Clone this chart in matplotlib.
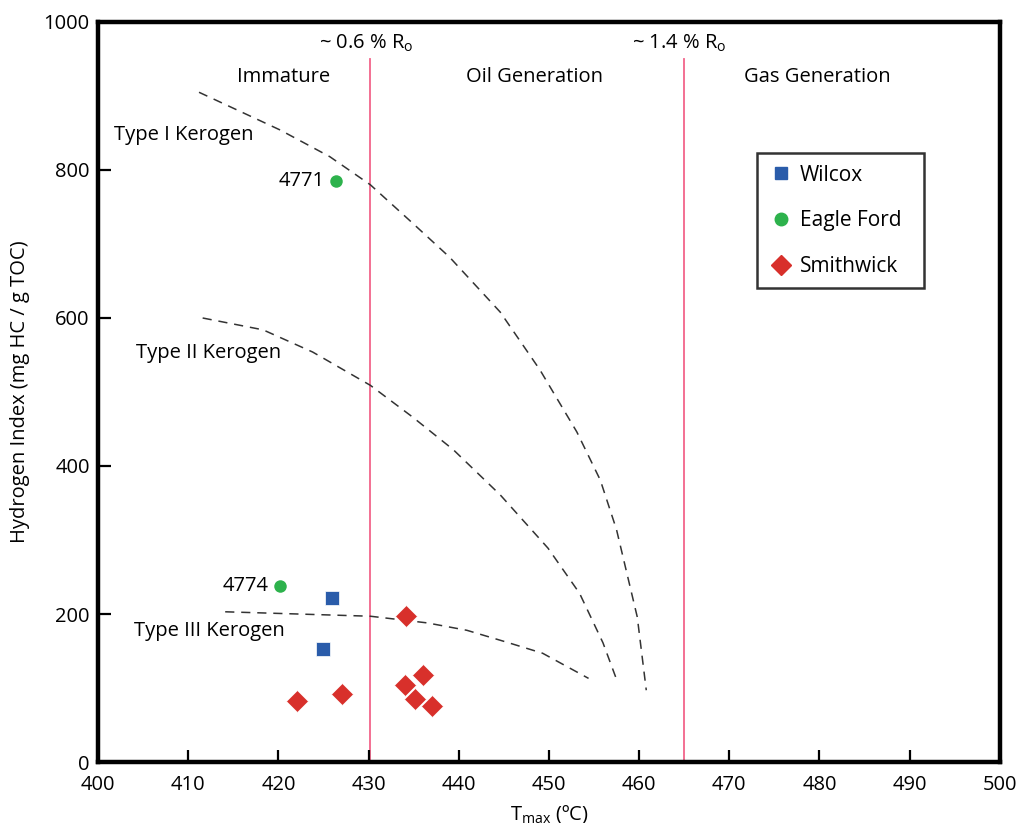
import matplotlib.pyplot as plt
from matplotlib.lines import Line2D

plt.rcParams['font.family'] = ['Open Sans', 'DejaVu Sans']
plt.rcParams['mathtext.fontset'] = 'custom'
plt.rcParams['mathtext.rm'] = 'Open Sans'

# sample data (Tmax in degC, HI in mg HC / g TOC)
wilcox_t = [426.0, 425.0]
wilcox_hi = [222, 153]

eagle_t = [426.4, 420.2]
eagle_hi = [785, 238]
eagle_ids = ['4771', '4774']

smith_t = [434.2, 422.1, 427.1, 434.0, 436.0, 435.1, 437.0]
smith_hi = [197, 83, 92, 104, 118, 85, 76]

# kerogen type evolution paths
type1_t = [411.2, 420.2, 425.7, 430.2, 434.9, 439.0, 444.6, 449.0, 453.1, 455.7, 457.5, 459.8, 460.8]
type1_hi = [905, 854, 818, 780, 728, 682, 608, 530, 446, 381, 314, 196, 97]
type2_t = [411.6, 418.3, 423.8, 430.2, 434.9, 439.4, 444.6, 449.9, 453.4, 456.0, 457.4]
type2_hi = [600, 584, 554, 509, 466, 422, 361, 289, 228, 161, 115]
type3_t = [414.1, 430.2, 436.5, 440.9, 445.3, 449.3, 452.3, 454.4]
type3_hi = [203, 197, 188, 178, 162, 147, 127, 113]

# maturity boundaries
ro_t = [430.2, 465.0]
ro_labels = ['~ 0.6 % R$_{\\rm o}$', '~ 1.4 % R$_{\\rm o}$']

fig = plt.figure(figsize=(10.16, 8.23), dpi=100)
ax = fig.add_axes([0.0965, 0.0741, 0.8875, 0.8992])

for xv in ro_t:
    ax.plot([xv, xv], [0, 950], color='#f2648a', lw=1.3, zorder=1)

dash = (0, (6, 4.5))
for tt, hh in [(type1_t, type1_hi), (type2_t, type2_hi), (type3_t, type3_hi)]:
    ax.plot(tt, hh, color='#333333', lw=1.1, linestyle=dash, zorder=2)

ax.plot(wilcox_t, wilcox_hi, 's', color='#2a5caa', ms=10, mec='white', mew=0.5, zorder=3)
ax.plot(eagle_t, eagle_hi, 'o', color='#2db24c', ms=9, mec='none', zorder=3)
ax.plot(smith_t, smith_hi, 'D', color='#d8302b', ms=11.5, mec='white', mew=0.5, zorder=3)

for t, h, s in zip(eagle_t, eagle_hi, eagle_ids):
    ax.text(t - 1.3, h, s, ha='right', va='center', fontsize=14.5)

fs = 14.5
ax.text(420.6, 926, 'Immature', ha='center', va='center', fontsize=fs)
ax.text(448.4, 926, 'Oil Generation', ha='center', va='center', fontsize=fs)
ax.text(479.8, 926, 'Gas Generation', ha='center', va='center', fontsize=fs)
ax.text(429.7, 971, ro_labels[0], ha='center', va='center', fontsize=fs)
ax.text(464.4, 971, ro_labels[1], ha='center', va='center', fontsize=fs)
ax.text(401.8, 847, 'Type I Kerogen', ha='left', va='center', fontsize=fs)
ax.text(404.2, 553, 'Type II Kerogen', ha='left', va='center', fontsize=fs)
ax.text(404.0, 177, 'Type III Kerogen', ha='left', va='center', fontsize=fs)

ax.set_xlim(400, 500)
ax.set_ylim(0, 1000)
ax.set_xticks(range(400, 501, 10))
ax.set_yticks(range(0, 1001, 200))
ax.tick_params(direction='in', length=9, width=1.6, labelsize=14.5)
ax.tick_params(axis='x', pad=9)
ax.tick_params(axis='y', pad=6)
for sp in ax.spines.values():
    sp.set_linewidth(3.2)

ax.set_xlabel('T$_{\\rm max}$ (ºC)', fontsize=14.5, labelpad=6)
ax.set_ylabel('Hydrogen Index (mg HC / g TOC)', fontsize=14.5, labelpad=10)

handles = [
    Line2D([], [], marker='s', color='#2a5caa', ls='none', ms=9),
    Line2D([], [], marker='o', color='#2db24c', ls='none', ms=9),
    Line2D([], [], marker='D', color='#d8302b', ls='none', ms=10),
]
leg = ax.legend(handles, ['Wilcox', 'Eagle Ford  ', 'Smithwick'],
                loc='upper left', bbox_to_anchor=(0.7306, 0.823), fontsize=15,
                frameon=True, fancybox=False, edgecolor='black',
                labelspacing=1.18, handletextpad=0.3, borderpad=0.56,
                handlelength=1.2, borderaxespad=0)
leg.get_frame().set_linewidth(1.8)

fig.savefig('out.png', dpi=100)
